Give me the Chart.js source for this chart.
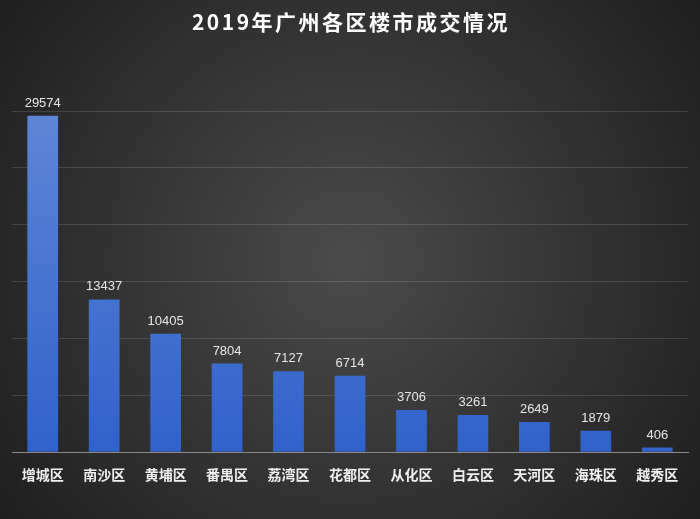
<!DOCTYPE html>
<html lang="zh">
<head>
  <meta charset="UTF-8" />
  <title>2019年广州各区楼市成交情况</title>
  <script src="https://cdn.jsdelivr.net/npm/chart.js"></script>
  <style>
    html, body { margin: 0; padding: 0; background: #222; }
    #wrap { width: 700px; height: 519px; }
  </style>
</head>
<body>
  <div id="wrap"><canvas id="chart"></canvas></div>
  <script>
    const chartTitle = '2019年广州各区楼市成交情况';
    const districts = ['增城区', '南沙区', '黄埔区', '番禺区', '荔湾区', '花都区', '从化区', '白云区', '天河区', '海珠区', '越秀区'];
    const deals = [29574, 13437, 10405, 7804, 7127, 6714, 3706, 3261, 2649, 1879, 406];

    const bgPlugin = {
      id: 'bg',
      beforeDraw(chart) {
        const { ctx, width, height } = chart;
        const g = ctx.createRadialGradient(width / 2, height / 2, 0, width / 2, height / 2, 460);
        g.addColorStop(0, '#4b4b4b');
        g.addColorStop(1, '#1c1c1c');
        ctx.save();
        ctx.fillStyle = g;
        ctx.fillRect(0, 0, width, height);
        // title, drawn by hand so it can have letter spacing
        ctx.font = 'bold 21px "Noto Sans CJK SC", sans-serif';
        ctx.letterSpacing = '2.5px';
        ctx.fillStyle = '#ffffff';
        ctx.textAlign = 'center';
        ctx.textBaseline = 'middle';
        ctx.fillText(chartTitle, width / 2 + 1, 22);
        ctx.restore();
      }
    };

    const labelPlugin = {
      id: 'valueLabels',
      afterDatasetsDraw(chart) {
        const { ctx } = chart;
        const meta = chart.getDatasetMeta(0);
        ctx.save();
        ctx.font = '13px "Liberation Sans", Arial, sans-serif';
        ctx.fillStyle = '#e6e6e6';
        ctx.textAlign = 'center';
        ctx.textBaseline = 'bottom';
        meta.data.forEach((bar, i) => {
          ctx.fillText(deals[i], bar.x, bar.y - 6);
        });
        ctx.restore();
      }
    };

    function barFill(c) {
      const area = c.chart.chartArea;
      if (!area) return '#4472c4';
      const g = c.chart.ctx.createLinearGradient(0, area.top, 0, area.bottom);
      g.addColorStop(0, '#5f86d6');
      g.addColorStop(1, '#3062cc');
      return g;
    }

    new Chart(document.getElementById('chart'), {
      type: 'bar',
      data: {
        labels: districts,
        datasets: [{
          data: deals,
          backgroundColor: barFill,
          borderWidth: 0,
          categoryPercentage: 1,
          barPercentage: 0.5
        }]
      },
      options: {
        responsive: true,
        maintainAspectRatio: false,
        animation: false,
        layout: { padding: { left: 12, right: 12, top: 111, bottom: 30 } },
        plugins: {
          legend: { display: false },
          tooltip: { enabled: false },
          title: { display: false }
        },
        scales: {
          x: {
            grid: { display: false },
            border: { color: '#8a8a8a', width: 1 },
            ticks: {
              color: '#f0f0f0',
              padding: 6,
              font: { family: '"Noto Sans CJK SC", sans-serif', size: 14, weight: 'bold' }
            }
          },
          y: {
            min: 0,
            max: 30000,
            ticks: { display: false, stepSize: 5000 },
            border: { display: false },
            grid: { color: 'rgba(255,255,255,0.13)', drawTicks: false }
          }
        }
      },
      plugins: [bgPlugin, labelPlugin]
    });
  </script>
</body>
</html>
